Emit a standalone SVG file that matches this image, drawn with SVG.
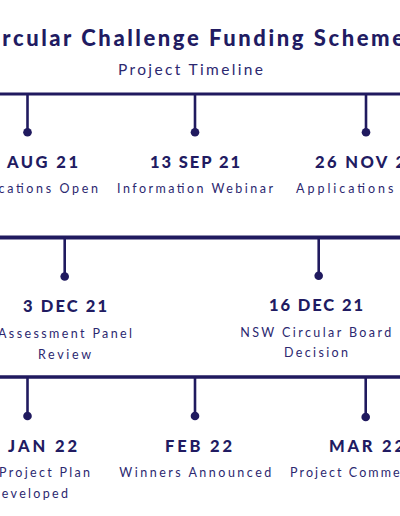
<svg xmlns="http://www.w3.org/2000/svg" width="400" height="516" viewBox="0 0 400 516">
<style>
.bg{fill:#ffffff}
.tl{stroke:#201a5f;fill:none}
.drop{stroke:#201a5f;stroke-width:2.6}
.dot{fill:#201a5f}
.title{font-family:Lato,"Noto Sans",sans-serif;font-weight:900;font-size:22px;fill:#211b62}
.sub{font-family:Lato,"Noto Sans",sans-serif;font-weight:400;font-size:15.5px;fill:#2c2870}
.date{font-family:Lato,"Noto Sans",sans-serif;font-weight:900;font-size:16.5px;fill:#211b62}
.desc{font-family:Lato,"Noto Sans",sans-serif;font-weight:400;font-size:12.5px;fill:#2c2870}
</style>
<rect class="bg" x="0" y="0" width="400" height="516"/>
<g id="header">
<text class="title" x="190.5" y="46" text-anchor="middle" textLength="427" lengthAdjust="spacing">Circular Challenge Funding Scheme</text>
<text class="sub" x="190.5" y="74.5" text-anchor="middle" textLength="145" lengthAdjust="spacing">Project Timeline</text>
</g>
<g id="connectors">
<line class="tl" x1="0" y1="94" x2="400" y2="94" stroke-width="3"/>
<line class="tl" x1="0" y1="237.5" x2="400" y2="237.5" stroke-width="4.2"/>
<line class="tl" x1="0" y1="377" x2="400" y2="377" stroke-width="3.4"/>
</g>
<g id="m1">
<line class="drop" x1="27.5" y1="94" x2="27.5" y2="132"/>
<circle class="dot" cx="27.5" cy="132.3" r="4.3"/>
<text class="date" x="27.5" y="167.7" text-anchor="middle" textLength="101" lengthAdjust="spacing">30 AUG 21</text>
<text class="desc" x="27.5" y="192.5" text-anchor="middle" textLength="141" lengthAdjust="spacing">Applications Open</text>
</g>
<g id="m2">
<line class="drop" x1="195" y1="94" x2="195" y2="132"/>
<circle class="dot" cx="195" cy="132.3" r="4.3"/>
<text class="date" x="195" y="167.7" text-anchor="middle" textLength="90" lengthAdjust="spacing">13 SEP 21</text>
<text class="desc" x="195" y="192.5" text-anchor="middle" textLength="156" lengthAdjust="spacing">Information Webinar</text>
</g>
<g id="m3">
<line class="drop" x1="366" y1="94" x2="366" y2="132"/>
<circle class="dot" cx="366" cy="132.3" r="4.3"/>
<text class="date" x="315" y="167.7" textLength="102" lengthAdjust="spacing">26 NOV 21</text>
<text class="desc" x="296" y="192.5" textLength="149" lengthAdjust="spacing">Applications Close</text>
</g>
<g id="m4">
<line class="drop" x1="64.7" y1="237.5" x2="64.7" y2="276"/>
<circle class="dot" cx="64.7" cy="276.5" r="4.3"/>
<text class="date" x="65" y="312.3" text-anchor="middle" textLength="84" lengthAdjust="spacing">3 DEC 21</text>
<text class="desc" x="65" y="338.3" text-anchor="middle" textLength="134" lengthAdjust="spacing">Assessment Panel</text>
<text class="desc" x="64.5" y="359" text-anchor="middle" textLength="53" lengthAdjust="spacing">Review</text>
</g>
<g id="m5">
<line class="drop" x1="318.7" y1="237.5" x2="318.7" y2="275"/>
<circle class="dot" cx="318.7" cy="275.7" r="4.3"/>
<text class="date" x="316" y="311" text-anchor="middle" textLength="94" lengthAdjust="spacing">16 DEC 21</text>
<text class="desc" x="315.7" y="337" text-anchor="middle" textLength="151" lengthAdjust="spacing">NSW Circular Board</text>
<text class="desc" x="316" y="357.3" text-anchor="middle" textLength="64" lengthAdjust="spacing">Decision</text>
</g>
<g id="m6">
<line class="drop" x1="27.5" y1="377" x2="27.5" y2="416"/>
<circle class="dot" cx="27.5" cy="416" r="4.3"/>
<text class="date" x="8" y="451.7" textLength="69" lengthAdjust="spacing">JAN 22</text>
<text class="desc" x="-1" y="476.7" textLength="91" lengthAdjust="spacing">Project Plan</text>
<text class="desc" x="29" y="497.7" text-anchor="middle" textLength="78" lengthAdjust="spacing">Developed</text>
</g>
<g id="m7">
<line class="drop" x1="195" y1="377" x2="195" y2="416"/>
<circle class="dot" cx="195" cy="416" r="4.3"/>
<text class="date" x="198.5" y="452" text-anchor="middle" textLength="67" lengthAdjust="spacing">FEB 22</text>
<text class="desc" x="195.3" y="477" text-anchor="middle" textLength="152" lengthAdjust="spacing">Winners Announced</text>
</g>
<g id="m8">
<line class="drop" x1="365.7" y1="377" x2="365.7" y2="417"/>
<circle class="dot" cx="365.7" cy="417" r="4.3"/>
<text class="date" x="329" y="452" textLength="75" lengthAdjust="spacing">MAR 22</text>
<text class="desc" x="290" y="477" textLength="143" lengthAdjust="spacing">Project Commences</text>
</g>
</svg>
